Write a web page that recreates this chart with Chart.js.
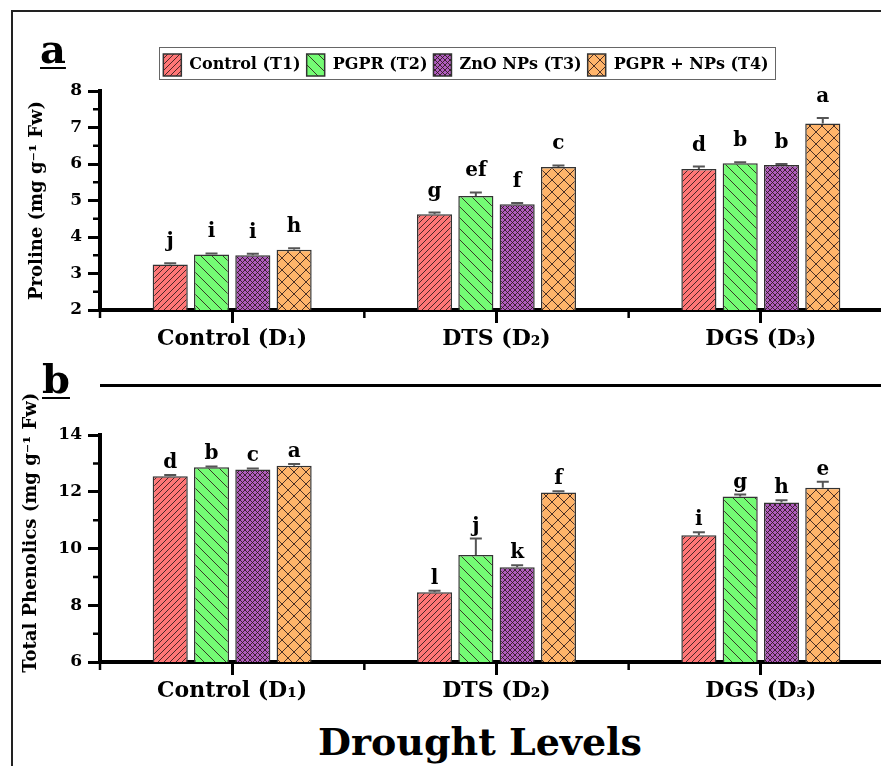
<!DOCTYPE html>
<html>
<head>
<title>Proline and Total Phenolics</title>
<script src="https://cdn.jsdelivr.net/npm/chart.js"></script>
<style>
  body { margin: 0; width: 881px; height: 766px; overflow: hidden; position: relative; background: #fff; font-family: 'DejaVu Serif', serif; }
  canvas { position: absolute; left: 0; }
  #chartA { top: 0; }
  #chartB { top: 370px; }
  .frame-top { position: absolute; left: 11px; top: 10px; width: 870px; height: 2px; background: #222; }
  .frame-left { position: absolute; left: 11px; top: 10px; width: 2px; height: 756px; background: #222; }
  .rule { position: absolute; left: 100px; top: 384px; width: 781px; height: 3px; background: #000; }
  .panel { position: absolute; font-weight: bold; font-size: 40px; line-height: 40px; text-decoration: underline; text-decoration-thickness: 2px; text-underline-offset: 4px; }
  .xtitle { position: absolute; left: 230px; width: 500px; top: 723px; text-align: center; font-weight: bold; font-size: 38px; line-height: 38px; }
</style>
</head>
<body>
  <div class="frame-top"></div>
  <div class="frame-left"></div>
  <div class="rule"></div>
  <canvas id="chartA" width="893" height="355"></canvas>
  <canvas id="chartB" width="893" height="337"></canvas>
  <div class="panel" style="left:40px; top:29px;">a</div>
  <div class="panel" style="left:42px; top:359px;">b</div>
  <div class="xtitle">Drought Levels</div>
<script>
  const groups = ['Control (D₁)', 'DTS (D₂)', 'DGS (D₃)'];
  const treatments = ['Control (T1)', 'PGPR (T2)', 'ZnO NPs (T3)', 'PGPR + NPs (T4)'];

  // Proline (mg g-1 Fw), one array per treatment across the three drought levels
  const prolineT1 = [3.25, 4.62, 5.86];
  const prolineT2 = [3.52, 5.12, 6.02];
  const prolineT3 = [3.50, 4.90, 5.97];
  const prolineT4 = [3.65, 5.92, 7.11];
  const prolineErr = [[0.03, 0.05, 0.07], [0.03, 0.10, 0.03], [0.04, 0.03, 0.03], [0.04, 0.04, 0.15]];
  const prolineLetters = [['j', 'g', 'd'], ['i', 'ef', 'b'], ['i', 'f', 'b'], ['h', 'c', 'a']];

  // Total phenolics (mg g-1 Fw)
  const phenolT1 = [12.55, 8.46, 10.47];
  const phenolT2 = [12.86, 9.77, 11.83];
  const phenolT3 = [12.78, 9.34, 11.62];
  const phenolT4 = [12.92, 11.97, 12.14];
  const phenolErr = [[0.04, 0.05, 0.10], [0.03, 0.58, 0.07], [0.04, 0.07, 0.08], [0.06, 0.05, 0.21]];
  const phenolLetters = [['d', 'l', 'i'], ['b', 'j', 'g'], ['c', 'k', 'h'], ['a', 'f', 'e']];

  Chart.defaults.font.family = "'DejaVu Serif', serif";
  Chart.defaults.font.weight = 'bold';
  Chart.defaults.color = '#000';

  function makePattern(color, step, dirs) {
    const c = document.createElement('canvas');
    c.width = c.height = step;
    const g = c.getContext('2d');
    g.fillStyle = color;
    g.fillRect(0, 0, step, step);
    g.strokeStyle = 'rgba(45,25,25,0.85)';
    g.lineWidth = 1;
    g.beginPath();
    for (const k of [-step, 0, step]) {
      if (dirs.includes('/')) { g.moveTo(k - 1, step + 1); g.lineTo(k + step + 1, -1); }
      if (dirs.includes('\\')) { g.moveTo(k - 1, -1); g.lineTo(k + step + 1, step + 1); }
    }
    g.stroke();
    return g.createPattern(c, 'repeat');
  }

  const fills = [
    makePattern('#FF7676', 6, '/'),
    makePattern('#74FC74', 11, '\\'),
    makePattern('#B05CC0', 5, '/\\'),
    makePattern('#FFB46A', 12, '/\\'),
  ];

  // error bars + significance letters on top of each bar
  const barExtras = {
    id: 'barExtras',
    afterDatasetsDraw(chart, args, opts) {
      const { ctx } = chart;
      const y = chart.scales.y;
      ctx.save();
      ctx.font = "bold 20px 'DejaVu Serif'";
      ctx.textAlign = 'center';
      ctx.textBaseline = 'alphabetic';
      chart.data.datasets.forEach((ds, di) => {
        chart.getDatasetMeta(di).data.forEach((bar, i) => {
          const top = y.getPixelForValue(ds.data[i] + ds.errors[i]);
          ctx.strokeStyle = '#555';
          ctx.lineWidth = 2;
          ctx.beginPath();
          ctx.moveTo(bar.x, bar.y);
          ctx.lineTo(bar.x, top);
          ctx.moveTo(bar.x - 6, top);
          ctx.lineTo(bar.x + 6, top);
          ctx.stroke();
          ctx.fillStyle = '#000';
          ctx.fillText(ds.letters[i], bar.x, top - opts.gap);
        });
      });
      ctx.restore();
    }
  };

  // short minor ticks between the major ones
  const minorTicks = {
    id: 'minorTicks',
    afterDraw(chart, args, opts) {
      const { ctx } = chart;
      const { x, y } = chart.scales;
      ctx.save();
      ctx.strokeStyle = '#000';
      ctx.lineWidth = 2.5;
      ctx.beginPath();
      for (let v = y.min + opts.step; v < y.max; v += opts.step * 2) {
        const py = y.getPixelForValue(v);
        ctx.moveTo(y.right - 7, py);
        ctx.lineTo(y.right, py);
      }
      for (let i = -0.5; i < groups.length; i++) {
        const px = x.getPixelForValue(i);
        ctx.moveTo(px, x.top);
        ctx.lineTo(px, x.top + 8);
      }
      ctx.stroke();
      ctx.restore();
    }
  };

  // legend box is moved onto the spot it has in the figure and framed
  const legendFrame = {
    id: 'legendFrame',
    afterLayout(chart, args, opts) {
      const l = chart.legend;
      if (!l || !l.options.display) return;
      const dx = opts.centerX - (l.left + l.right) / 2;
      l.left += dx; l.right += dx;
      l.top += opts.dy; l.bottom += opts.dy;
    },
    afterDraw(chart) {
      const l = chart.legend;
      if (!l || !l.options.display || !l.legendHitBoxes.length) return;
      const hb = l.legendHitBoxes;
      const x0 = hb[0].left - 4;
      const x1 = hb[hb.length - 1].left + hb[hb.length - 1].width + 7;
      const y0 = hb[0].top - 7;
      const y1 = hb[0].top + hb[0].height + 3;
      const { ctx } = chart;
      ctx.save();
      ctx.strokeStyle = '#666';
      ctx.lineWidth = 1;
      ctx.strokeRect(Math.round(x0) + 0.5, Math.round(y0) + 0.5, Math.round(x1 - x0), Math.round(y1 - y0));
      ctx.restore();
    }
  };

  function createChart(id, series, errors, letters, opts) {
    return new Chart(document.getElementById(id), {
      type: 'bar',
      data: {
        labels: groups,
        datasets: series.map((data, i) => ({
          label: treatments[i],
          data: data,
          errors: errors[i],
          letters: letters[i],
          backgroundColor: fills[i],
          borderColor: '#333',
          borderWidth: 1.5,
          borderSkipped: false,
          categoryPercentage: 0.625,
          barPercentage: 0.85,
        }))
      },
      plugins: [barExtras, minorTicks, legendFrame],
      options: {
        responsive: false,
        animation: false,
        layout: { padding: { top: opts.padTop, left: 0, right: 0, bottom: 0 } },
        plugins: {
          tooltip: { enabled: false },
          legend: {
            display: opts.legend,
            position: 'top',
            labels: {
              boxWidth: 18,
              boxHeight: 22,
              padding: 6,
              font: { size: 16, weight: 'bold' },
              color: '#000',
            }
          },
          barExtras: { gap: opts.gap },
          minorTicks: { step: opts.minor },
          legendFrame: { centerX: 466, dy: -5 },
        },
        scales: {
          x: {
            afterFit(scale) { scale.height = 45; },
            border: { color: '#000', width: 4 },
            grid: { offset: false, drawOnChartArea: false, tickLength: 13, tickWidth: 3, tickColor: '#000' },
            ticks: { font: { size: 22, weight: 'bold' }, padding: 3, color: '#000' },
          },
          y: {
            min: opts.min,
            max: opts.max,
            afterFit(scale) { scale.width = 100; },
            border: { color: '#000', width: 4 },
            grid: { drawOnChartArea: false, tickLength: 12, tickWidth: 3, tickColor: '#000' },
            ticks: { stepSize: opts.step, font: { size: 17, weight: 'bold' }, padding: 6, color: '#000' },
            title: {
              display: true,
              text: opts.title,
              font: { size: 18, weight: 'bold' },
              padding: { top: opts.titlePad, bottom: 0 },
              color: '#000',
            }
          }
        }
      }
    });
  }

  createChart('chartA',
    [prolineT1, prolineT2, prolineT3, prolineT4], prolineErr, prolineLetters,
    { padTop: 53, legend: true, min: 2, max: 8, step: 1, minor: 0.5, gap: 16,
      title: 'Proline (mg g⁻¹ Fw)', titlePad: 27 });

  // leading spaces lift the long rotated title a little, as in the figure
  createChart('chartB',
    [phenolT1, phenolT2, phenolT3, phenolT4], phenolErr, phenolLetters,
    { padTop: 65, legend: false, min: 6, max: 14, step: 2, minor: 1, gap: 7,
      title: '     Total Phenolics (mg g⁻¹ Fw)', titlePad: 21 });
</script>
</body>
</html>
